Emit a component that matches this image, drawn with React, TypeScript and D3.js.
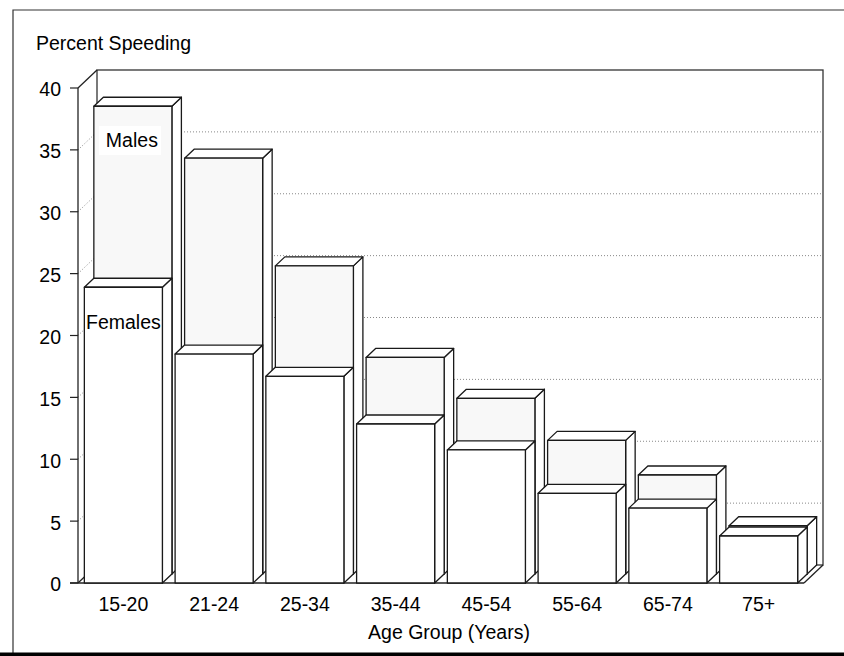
import React from "react";
import * as d3 from "d3";

const categories = ["15-20", "21-24", "25-34", "35-44", "45-54", "55-64", "65-74", "75+"];
const females = [23.9, 18.5, 16.7, 12.85, 10.75, 7.25, 6.05, 3.8];
const males = [37.8, 33.6, 24.9, 17.5, 14.2, 10.8, 8.0, 3.9];
const yTicks = [0, 5, 10, 15, 20, 25, 30, 35, 40];
const yTitle = "Percent Speeding";
const xTitle = "Age Group (Years)";
const seriesLabels = ["Males", "Females"];

const W = 844;
const H = 656;
const FONT = "'Liberation Sans', Arial, Helvetica, sans-serif";
const FS = 19.5;

export default function App() {
  const x0 = 78, x1 = 804, yBase = 583, yTop = 88;
  const DX = 19, DY = 18; // total depth
  const hdx = DX / 2, hdy = DY / 2;
  const y = d3.scaleLinear().domain([0, 40]).range([yBase, yTop]);
  const x = d3.scaleBand<string>().domain(categories).range([x0, x1]).paddingInner(0.14).paddingOuter(0.07);
  const bw = x.bandwidth();

  const poly = (pts: [number, number][]) => pts.map((p) => p.join(",")).join(" ");

  const bar = (bx: number, v: number, ox: number, oy: number, fill: string, key: string) => {
    const top = y(v) - oy;
    const bot = yBase - oy;
    const l = bx + ox;
    const r = l + bw;
    return (
      <g key={key} stroke="#1a1a1a" strokeWidth={1.3} strokeLinejoin="round">
        <polygon points={poly([[r, top], [r + hdx, top - hdy], [r + hdx, bot - hdy], [r, bot]])} fill="#ffffff" />
        <polygon points={poly([[l, top], [r, top], [r + hdx, top - hdy], [l + hdx, top - hdy]])} fill="#ffffff" />
        <rect x={l} y={top} width={bw} height={bot - top} fill={fill} />
      </g>
    );
  };

  const gridTicks = yTicks.filter((t) => t > 0 && t < 40);

  return (
    <svg width={W} height={H} style={{ position: "absolute", left: 0, top: 0, background: "#fff" }} fontFamily={FONT}>
      {/* outer frame */}
      <path d={`M13,${H} L13,10 L${W},10`} fill="none" stroke="#333" strokeWidth={1.2} />
      <rect x={0} y={652.5} width={W} height={4} fill="#000" />

      {/* back wall */}
      <rect x={x0 + DX} y={yTop - DY} width={x1 - x0} height={yBase - yTop} fill="#fff" stroke="#333" strokeWidth={1.3} />
      {/* gridlines on back wall and left wall */}
      {gridTicks.map((t) => (
        <g key={"g" + t} stroke="#888" strokeWidth={1} strokeDasharray="1,2" fill="none">
          <line x1={x0 + DX} x2={x1 + DX} y1={y(t) - DY} y2={y(t) - DY} />
          <line x1={x0} x2={x0 + DX} y1={y(t)} y2={y(t) - DY} />
        </g>
      ))}
      {/* left wall edges */}
      <g stroke="#222" strokeWidth={1.3} fill="none">
        <line x1={x0} y1={yTop} x2={x0 + DX} y2={yTop - DY} />
        <line x1={x0} y1={yBase} x2={x0 + DX} y2={yBase - DY} />
        <line x1={x1} y1={yBase} x2={x1 + DX} y2={yBase - DY} />
        <line x1={x0} y1={yTop} x2={x0} y2={yBase} />
        <line x1={x0 - 8} y1={yBase} x2={x1} y2={yBase} />
      </g>
      {/* ticks and labels */}
      {yTicks.map((t) => (
        <g key={"t" + t}>
          <line x1={x0 - 8} x2={x0} y1={y(t)} y2={y(t)} stroke="#222" strokeWidth={1.2} />
          <text x={61} y={y(t) + 8.4} textAnchor="end" fontSize={FS} fill="#000">{t}</text>
        </g>
      ))}

      {/* male bars (back row) */}
      {categories.map((c, i) => bar(x(c)!, males[i], hdx, hdy, "#f8f8f8", "m" + c))}
      {/* female bars (front row) */}
      {categories.map((c, i) => bar(x(c)!, females[i], 0, 0, "#ffffff", "f" + c))}

      {/* series labels */}
      <rect x={99} y={126} width={62} height={29} fill="#fff" />
      <text x={x(categories[0])! + hdx + bw / 2 - 1} y={147} textAnchor="middle" fontSize={FS} fill="#000">{seriesLabels[0]}</text>
      <text x={x(categories[0])! + bw / 2} y={329} textAnchor="middle" fontSize={FS} fill="#000">{seriesLabels[1]}</text>

      {/* x labels */}
      {categories.map((c) => (
        <text key={"x" + c} x={x(c)! + bw / 2} y={610.5} textAnchor="middle" fontSize={FS} fill="#000">{c}</text>
      ))}
      <text x={449} y={639} textAnchor="middle" fontSize={FS} fill="#000">{xTitle}</text>
      <text x={36} y={49.5} fontSize={FS} fill="#000">{yTitle}</text>
    </svg>
  );
}
